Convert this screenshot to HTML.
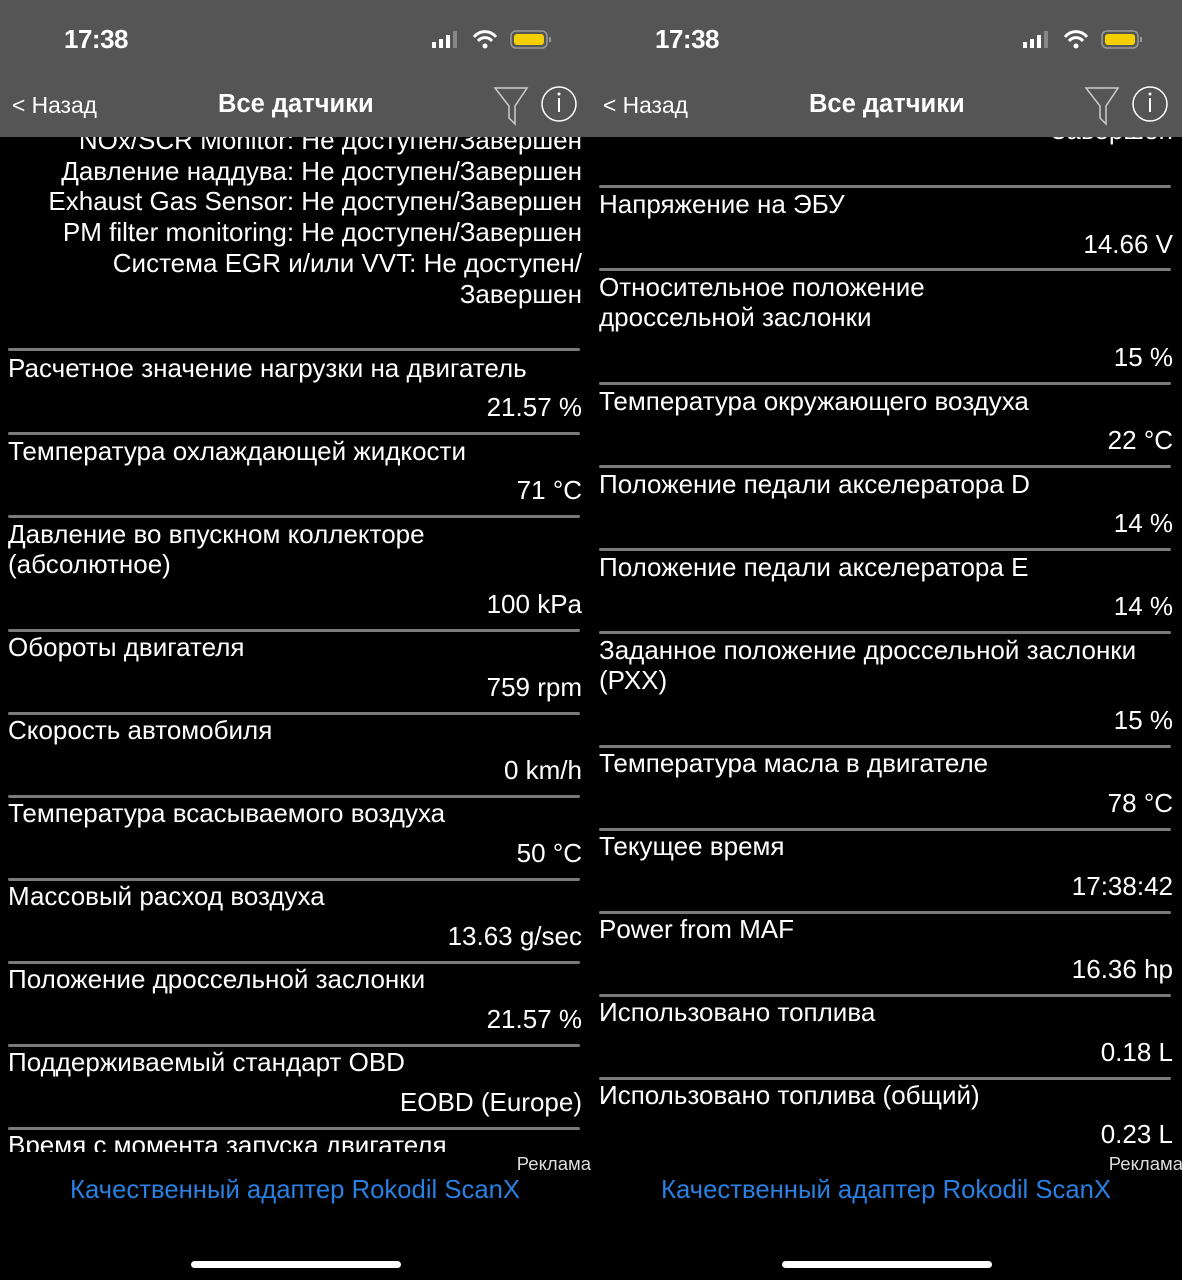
<!DOCTYPE html>
<html><head><meta charset="utf-8"><style>
*{margin:0;padding:0;box-sizing:border-box}
body{width:1182px;height:1280px;background:#000;position:relative;overflow:hidden;font-family:"Liberation Sans","DejaVu Sans",sans-serif;color:#fff}
.p{position:absolute;top:0;width:591px;height:1280px;overflow:hidden}
.hdr{position:absolute;left:0;top:0;width:591px;height:137px;background:#555;z-index:2}
.clip{position:absolute;left:0;top:137px;width:591px;height:1015px;overflow:hidden}
.t{position:absolute;font-size:26px;line-height:28px;white-space:nowrap}
.l{left:8px}
.r{right:9px;text-align:right}
.s{position:absolute;left:8px;width:572px;height:3px;background:#7a7a7a;border-radius:2px}
.time{position:absolute;left:64px;top:24px;font-size:26px;font-weight:bold;letter-spacing:-0.5px}
.back{position:absolute;left:12px;top:92px;font-size:22.8px}
.title{position:absolute;left:218px;top:90px;font-size:25.5px;font-weight:bold}
.ad{position:absolute;right:0;top:1153px;font-size:18.5px;color:#ddd}
.link{position:absolute;left:70px;top:1176px;font-size:25.7px;color:#2a7fe0}
.home{position:absolute;left:191px;top:1261px;width:210px;height:7px;background:#fff;border-radius:4px}
</style></head><body>

<div class="p" style="left:0">
<div class="hdr">
<div class="time">17:38</div>
<svg style="position:absolute;left:430px;top:28px" width="125" height="24">
<rect x="2" y="14" width="4" height="6" fill="#fff"/><rect x="9" y="11" width="4" height="9" fill="#fff"/><rect x="16" y="7" width="4" height="13" fill="#fff"/><rect x="23" y="3" width="4" height="17" fill="#888"/>
<path d="M44 9 A14 14 0 0 1 66 9" stroke="#fff" stroke-width="3" fill="none"/><path d="M48 13 A9 9 0 0 1 62 13" stroke="#fff" stroke-width="3" fill="none"/><circle cx="55" cy="18" r="2.5" fill="#fff"/>
<rect x="81" y="3" width="36" height="17" rx="5" fill="none" stroke="#999" stroke-width="1.5"/><rect x="84" y="6" width="30" height="11" rx="3" fill="#f5d000"/><rect x="119" y="9" width="2" height="5" fill="#999"/>
</svg>
<div class="back">&lt; Назад</div>
<div class="title">Все датчики</div>
<svg style="position:absolute;left:493px;top:84px" width="90" height="42">
<path d="M2 4 L34 4 L22 22 L22 40 L16 34 L16 22 Z" fill="none" stroke="#ccc" stroke-width="1.5"/>
<circle cx="66" cy="20" r="17" fill="none" stroke="#fff" stroke-width="1.5"/><rect x="65" y="14" width="2" height="14" fill="#fff"/><circle cx="66" cy="10" r="1.5" fill="#fff"/>
</svg>
</div>
<div class="clip"><div style="position:absolute;top:-137px;left:0;width:591px;height:1300px">
<div class="t r" style="top:126px">NOx/SCR Monitor: Не доступен/Завершен</div>
<div class="t r" style="top:157px">Давление наддува: Не доступен/Завершен</div>
<div class="t r" style="top:187px">Exhaust Gas Sensor: Не доступен/Завершен</div>
<div class="t r" style="top:218px">PM filter monitoring: Не доступен/Завершен</div>
<div class="t r" style="top:249px">Система EGR и/или VVT: Не доступен/</div>
<div class="t r" style="top:280px">Завершен</div>

<div class="s" style="top:348px"></div>
<div class="t l" style="top:354px">Расчетное значение нагрузки на двигатель</div>
<div class="t r" style="top:393px">21.57 %</div>
<div class="s" style="top:432px"></div>
<div class="t l" style="top:437px">Температура охлаждающей жидкости</div>
<div class="t r" style="top:476px">71 °C</div>
<div class="s" style="top:515px"></div>
<div class="t l" style="top:520px">Давление во впускном коллекторе</div>
<div class="t l" style="top:550px">(абсолютное)</div>
<div class="t r" style="top:590px">100 kPa</div>
<div class="s" style="top:629px"></div>
<div class="t l" style="top:633px">Обороты двигателя</div>
<div class="t r" style="top:673px">759 rpm</div>
<div class="s" style="top:712px"></div>
<div class="t l" style="top:716px">Скорость автомобиля</div>
<div class="t r" style="top:756px">0 km/h</div>
<div class="s" style="top:795px"></div>
<div class="t l" style="top:799px">Температура всасываемого воздуха</div>
<div class="t r" style="top:839px">50 °C</div>
<div class="s" style="top:878px"></div>
<div class="t l" style="top:882px">Массовый расход воздуха</div>
<div class="t r" style="top:922px">13.63 g/sec</div>
<div class="s" style="top:961px"></div>
<div class="t l" style="top:965px">Положение дроссельной заслонки</div>
<div class="t r" style="top:1005px">21.57 %</div>
<div class="s" style="top:1044px"></div>
<div class="t l" style="top:1048px">Поддерживаемый стандарт OBD</div>
<div class="t r" style="top:1088px">EOBD (Europe)</div>
<div class="s" style="top:1127px"></div>
<div class="t l" style="top:1131px">Время с момента запуска двигателя</div>
</div></div>
<div class="ad">Реклама</div>
<div class="link">Качественный адаптер Rokodil ScanX</div>
<div class="home"></div>
</div>

<div class="p" style="left:591px">
<div class="hdr">
<div class="time">17:38</div>
<svg style="position:absolute;left:430px;top:28px" width="125" height="24">
<rect x="2" y="14" width="4" height="6" fill="#fff"/><rect x="9" y="11" width="4" height="9" fill="#fff"/><rect x="16" y="7" width="4" height="13" fill="#fff"/><rect x="23" y="3" width="4" height="17" fill="#888"/>
<path d="M44 9 A14 14 0 0 1 66 9" stroke="#fff" stroke-width="3" fill="none"/><path d="M48 13 A9 9 0 0 1 62 13" stroke="#fff" stroke-width="3" fill="none"/><circle cx="55" cy="18" r="2.5" fill="#fff"/>
<rect x="81" y="3" width="36" height="17" rx="5" fill="none" stroke="#999" stroke-width="1.5"/><rect x="84" y="6" width="30" height="11" rx="3" fill="#f5d000"/><rect x="119" y="9" width="2" height="5" fill="#999"/>
</svg>
<div class="back">&lt; Назад</div>
<div class="title">Все датчики</div>
<svg style="position:absolute;left:493px;top:84px" width="90" height="42">
<path d="M2 4 L34 4 L22 22 L22 40 L16 34 L16 22 Z" fill="none" stroke="#ccc" stroke-width="1.5"/>
<circle cx="66" cy="20" r="17" fill="none" stroke="#fff" stroke-width="1.5"/><rect x="65" y="14" width="2" height="14" fill="#fff"/><circle cx="66" cy="10" r="1.5" fill="#fff"/>
</svg>
</div>
<div class="clip"><div style="position:absolute;top:-137px;left:0;width:591px;height:1300px">
<div class="t r" style="top:116px">Завершен</div>
<div class="s" style="top:185px"></div>
<div class="t l" style="top:190px">Напряжение на ЭБУ</div>
<div class="t r" style="top:230px">14.66 V</div>
<div class="s" style="top:268px"></div>
<div class="t l" style="top:273px">Относительное положение</div>
<div class="t l" style="top:303px">дроссельной заслонки</div>
<div class="t r" style="top:343px">15 %</div>
<div class="s" style="top:382px"></div>
<div class="t l" style="top:387px">Температура окружающего воздуха</div>
<div class="t r" style="top:426px">22 °C</div>
<div class="s" style="top:465px"></div>
<div class="t l" style="top:470px">Положение педали акселератора D</div>
<div class="t r" style="top:509px">14 %</div>
<div class="s" style="top:548px"></div>
<div class="t l" style="top:553px">Положение педали акселератора E</div>
<div class="t r" style="top:592px">14 %</div>
<div class="s" style="top:631px"></div>
<div class="t l" style="top:636px">Заданное положение дроссельной заслонки</div>
<div class="t l" style="top:666px">(РХХ)</div>
<div class="t r" style="top:706px">15 %</div>
<div class="s" style="top:745px"></div>
<div class="t l" style="top:749px">Температура масла в двигателе</div>
<div class="t r" style="top:789px">78 °C</div>
<div class="s" style="top:828px"></div>
<div class="t l" style="top:832px">Текущее время</div>
<div class="t r" style="top:872px">17:38:42</div>
<div class="s" style="top:911px"></div>
<div class="t l" style="top:915px">Power from MAF</div>
<div class="t r" style="top:955px">16.36 hp</div>
<div class="s" style="top:994px"></div>
<div class="t l" style="top:998px">Использовано топлива</div>
<div class="t r" style="top:1038px">0.18 L</div>
<div class="s" style="top:1077px"></div>
<div class="t l" style="top:1081px">Использовано топлива (общий)</div>
<div class="t r" style="top:1120px">0.23 L</div>
</div></div>
<div class="ad" style="right:-1px">Реклама</div>
<div class="link">Качественный адаптер Rokodil ScanX</div>
<div class="home"></div>
</div>
</body></html>
